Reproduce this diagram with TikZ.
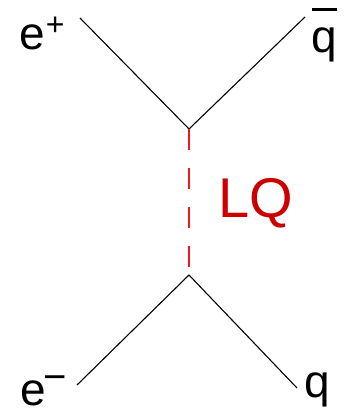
\documentclass[tikz,border=0pt]{standalone}
\usepackage{fontspec}
\setmainfont{Liberation Sans}
\definecolor{lqtext}{RGB}{204,0,0}
\definecolor{lqline}{RGB}{250,20,30}
\tikzset{
  fermion/.style={draw=black, line width=1.1pt},
  lqprop/.style={draw=lqline, line width=1.8pt, dash pattern=on 21pt off 18pt},
  lbl/.style={anchor=base west, inner sep=0pt, font=\fontsize{46}{46}\selectfont},
  lqlbl/.style={anchor=base west, inner sep=0pt, text=lqtext, font=\fontsize{56}{56}\selectfont}
}
\begin{document}
\begin{tikzpicture}[x=1pt, y=-1pt]
\useasboundingbox (0,0) rectangle (345,414);
% vertices and line ends
\coordinate (vtop) at (189,129);
\coordinate (vbot) at (189,275);
\coordinate (epin) at (80,18);
\coordinate (qbin) at (305,17);
\coordinate (emout) at (77,385);
\coordinate (qout) at (297,388);
% lines
\draw[fermion] (epin) -- (vtop);
\draw[fermion] (vtop) -- (qbin);
\draw[fermion] (vbot) -- (emout);
\draw[fermion] (vbot) -- (qout);
\draw[lqprop] (vtop) -- (vbot);
% labels
\node[lbl] (ep) at (19,50) {e\kern1pt\raisebox{14pt}{\fontsize{32}{32}\selectfont +}};
\node[lbl] (em) at (20,405) {e\kern-2pt\raisebox{14.5pt}{\fontsize{40}{40}\selectfont −}};
\node[lbl] (qb) at (311,53) {\makebox[0pt][l]{\kern1pt\raisebox{42pt}{\rule{25pt}{2.5pt}}}q};
\node[lbl] (q) at (304,397) {q};
\node[lqlbl] (lq) at (218,217) {LQ};
\end{tikzpicture}
\end{document}
